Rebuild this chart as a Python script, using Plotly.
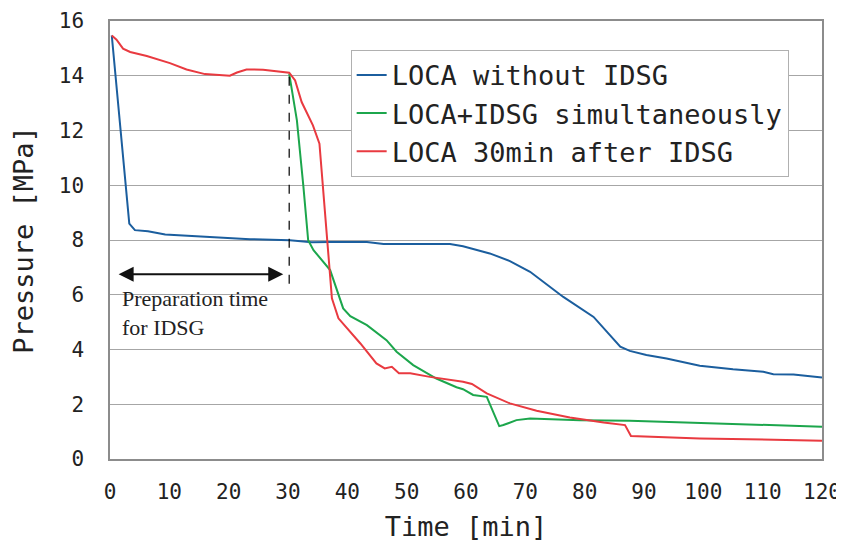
import plotly.graph_objects as go

# LOCA without IDSG
t_blue = [0.3, 3.25, 4.2, 6.4, 9.3, 15.2, 23.6, 30.3, 34.0, 37.1, 43.3, 46.1, 57.3, 59.5,
          64.0, 67.4, 70.8, 76.4, 81.5, 86.0, 87.6, 90.4, 93.8, 99.4, 105.0, 110.1, 111.8,
          115.2, 120.0]
p_blue = [15.47, 8.6, 8.36, 8.32, 8.2, 8.14, 8.03, 7.99, 7.92, 7.93, 7.93, 7.85, 7.85, 7.77,
          7.51, 7.23, 6.84, 5.92, 5.19, 4.10, 3.95, 3.80, 3.67, 3.41, 3.28, 3.19, 3.10,
          3.09, 2.98]

# LOCA+IDSG simultaneously
t_green = [30.2, 31.5, 32.6, 33.4, 34.3, 37.1, 39.3, 40.5, 43.3, 46.6, 48.3, 51.1, 55.0,
           58.4, 59.5, 61.2, 63.5, 64.3, 65.6, 66.3, 68.5, 70.8, 73.6, 79.2, 87.6, 100.0,
           120.0]
p_green = [14.08, 12.37, 9.94, 7.99, 7.63, 6.9, 5.5, 5.22, 4.89, 4.34, 3.92, 3.43, 2.94,
           2.62, 2.55, 2.34, 2.27, 1.85, 1.2, 1.24, 1.42, 1.48, 1.46, 1.42, 1.4, 1.32,
           1.18]

# LOCA 30min after IDSG
t_red = [0.3, 1.1, 2.2, 3.4, 6.2, 10.1, 12.9, 16.0, 20.2, 21.4, 23.0, 25.8, 30.2, 31.2,
         32.3, 34.2, 35.3, 37.4, 38.5, 42.2, 44.9, 46.3, 47.5, 48.7, 50.6, 53.9, 59.5,
         61.0, 63.5, 67.4, 71.9, 77.5, 83.2, 86.8, 87.8, 99.4, 120.0]
p_red = [15.47, 15.32, 14.99, 14.87, 14.72, 14.46, 14.23, 14.06, 14.0, 14.12, 14.23, 14.22,
         14.11, 13.83, 13.04, 12.19, 11.52, 5.87, 5.14, 4.22, 3.49, 3.31, 3.37, 3.13, 3.13,
         3.0, 2.82, 2.74, 2.40, 2.03, 1.76, 1.52, 1.33, 1.24, 0.84, 0.75, 0.67]

series = [
    ("LOCA without IDSG", t_blue, p_blue, "#1b5e9e"),
    ("LOCA+IDSG simultaneously", t_green, p_green, "#1ca64c"),
    ("LOCA 30min after IDSG", t_red, p_red, "#e93a40"),
]

mono = "DejaVu Sans Mono"

fig = go.Figure()
for name, t, p, col in series:
    fig.add_trace(go.Scatter(x=t, y=p, mode="lines", name=name,
                             line=dict(color=col, width=2)))

# preparation time marker
fig.add_shape(type="line", x0=30.2, x1=30.2, y0=6.4, y1=14.1,
              line=dict(color="black", width=1.2, dash="dash"))
fig.add_annotation(x=29.2, y=6.75, ax=1.2, ay=6.75, xref="x", yref="y", axref="x", ayref="y",
                   text="", showarrow=True, arrowhead=2, arrowsize=1.5, arrowwidth=2,
                   arrowcolor="#111", startarrowhead=2, startarrowsize=1.5, arrowside="end+start")
fig.add_annotation(x=1.7, y=6.4, xref="x", yref="y", xanchor="left", yanchor="top",
                   text="Preparation time<br>for IDSG", showarrow=False, align="left",
                   font=dict(family="Liberation Serif", size=22, color="#222"))

# page body adds an 8px offset, margins compensate for it
fig.update_layout(
    width=844, height=547,
    margin=dict(l=102, r=30, t=13, b=96),
    plot_bgcolor="white", paper_bgcolor="white",
    font=dict(family=mono, color="#222"),
    xaxis=dict(range=[0, 120], dtick=10, showgrid=False, showline=True, mirror=True,
               linecolor="#8c8c8c", linewidth=1.5, ticks="", zeroline=False,
               automargin=False, ticklabelstandoff=13,
               tickfont=dict(size=21),
               title=dict(text="Time [min]", font=dict(size=27), standoff=14)),
    yaxis=dict(range=[0, 16], dtick=2, showgrid=True, gridcolor="#a6a6a6", gridwidth=1,
               showline=True, mirror=True, linecolor="#8c8c8c", linewidth=1.5, ticks="",
               zeroline=False, automargin=False, ticklabelstandoff=20,
               tickfont=dict(size=21),
               title=dict(text="Pressure [MPa]", font=dict(size=27), standoff=20)),
    legend=dict(x=0.338, y=0.934, xanchor="left", yanchor="top", bgcolor="white",
                bordercolor="#b0b0b0", borderwidth=1, font=dict(size=27), tracegroupgap=0),
    showlegend=True,
)

fig.write_html("out.html")
